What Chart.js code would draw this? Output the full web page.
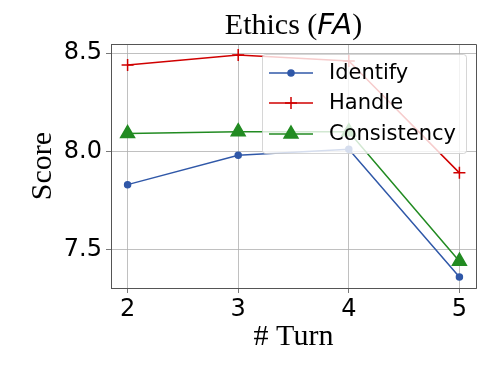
<!DOCTYPE html>
<html>
<head>
<meta charset="utf-8">
<script src="https://cdn.jsdelivr.net/npm/chart.js@4"></script>
<style>
  html, body { margin: 0; padding: 0; background: #fff; }
  #wrap { width: 488px; height: 366px; }
</style>
</head>
<body>
<div id="wrap"><canvas id="ethicsChart" width="488" height="366"></canvas></div>
<script>
// data
const turns = [2, 3, 4, 5];
const identify = [7.83, 7.98, 8.01, 7.36];
const handle = [8.44, 8.49, 8.46, 7.89];
const consistency = [8.09, 8.10, 8.10, 7.44];
const seriesNames = ['Identify', 'Handle', 'Consistency'];
const yTicks = [7.5, 8.0, 8.5];

const toPoints = vals => turns.map((t, i) => ({ x: t, y: vals[i] }));

// title + top/right spines + legend inside plot
const extras = {
    id: 'extras',
    afterDatasetsDraw(chart) {
        const ctx = chart.ctx;
        const a = chart.chartArea;
        ctx.save();

        // legend box
        const bx = 262, by = 54, bw = 204, bh = 99;
        ctx.fillStyle = 'rgba(255,255,255,0.8)';
        ctx.strokeStyle = 'rgba(204,204,204,0.8)';
        ctx.lineWidth = 1;
        ctx.beginPath();
        ctx.roundRect(bx + 0.5, by + 0.5, bw, bh, 3);
        ctx.fill();
        ctx.stroke();

        const rows = [73, 103, 134];
        chart.data.datasets.forEach((ds, i) => {
            const y = rows[i];
            ctx.strokeStyle = ds.borderColor;
            ctx.fillStyle = ds.borderColor;
            ctx.lineWidth = 1.5;
            ctx.beginPath();
            ctx.moveTo(269, y);
            ctx.lineTo(313, y);
            ctx.stroke();
            Chart.helpers.drawPoint(ctx, {
                pointStyle: ds.pointStyle,
                radius: ds.pointRadius,
                borderWidth: 1.5
            }, 291, y);
            ctx.fillStyle = '#000';
            ctx.font = '21px "DejaVu Sans"';
            ctx.textBaseline = 'middle';
            ctx.textAlign = 'left';
            ctx.fillText(ds.label, 329, y + 1);
        });

        // top and right spines
        ctx.strokeStyle = '#555';
        ctx.lineWidth = 1;
        ctx.beginPath();
        ctx.moveTo(a.left, a.top + 0.5);
        ctx.lineTo(a.right + 0.5, a.top + 0.5);
        ctx.lineTo(a.right + 0.5, a.bottom);
        ctx.stroke();

        // title: Ethics (FA)
        const p1 = 'Ethics (', p2 = 'FA', p3 = ')';
        const serif = '30px "Liberation Serif"';
        const mathIt = 'italic 29px "DejaVu Sans"';
        ctx.font = serif; const w1 = ctx.measureText(p1).width; const w3 = ctx.measureText(p3).width;
        ctx.font = mathIt; const w2 = ctx.measureText(p2).width;
        let x = (a.left + a.right) / 2 - (w1 + w2 + w3) / 2;
        const base = 34;
        ctx.fillStyle = '#000';
        ctx.textBaseline = 'alphabetic';
        ctx.textAlign = 'left';
        ctx.font = serif; ctx.fillText(p1, x, base); x += w1;
        ctx.font = mathIt; ctx.fillText(p2, x, base); x += w2;
        ctx.font = serif; ctx.fillText(p3, x, base);
        ctx.restore();
    }
};

const colors = ['#3058a8', '#d00000', '#228b22'];
const styles = ['circle', 'cross', 'triangle'];
const radii = [3, 6, 8];
const values = [identify, handle, consistency];

const ctx = document.getElementById('ethicsChart').getContext('2d');
new Chart(ctx, {
    type: 'line',
    data: {
        datasets: values.map((v, i) => ({
            label: seriesNames[i],
            data: toPoints(v),
            borderColor: colors[i],
            backgroundColor: colors[i],
            pointBackgroundColor: colors[i],
            pointBorderColor: colors[i],
            pointStyle: styles[i],
            pointRadius: radii[i],
            pointBorderWidth: 1.5,
            borderWidth: 1.5,
            tension: 0
        }))
    },
    options: {
        responsive: false,
        animation: false,
        layout: { padding: { top: 44, right: 12, left: 0, bottom: 0 } },
        plugins: { legend: { display: false }, tooltip: { enabled: false } },
        scales: {
            x: {
                type: 'linear',
                min: 1.85,
                max: 5.15,
                afterBuildTicks: s => { s.ticks = turns.map(v => ({ value: v })); },
                afterFit: s => { s.height = 78; },
                ticks: {
                    color: '#000',
                    font: { family: 'DejaVu Sans', size: 24 },
                    padding: 2,
                    maxRotation: 0,
                    callback: v => String(v)
                },
                grid: { color: '#b0b0b0', lineWidth: 0.8, tickLength: 5, tickColor: '#555' },
                border: { color: '#555', width: 1 },
                title: {
                    display: true,
                    text: '# Turn',
                    color: '#000',
                    font: { family: 'Liberation Serif', size: 30 },
                    padding: { top: 0, bottom: 11 }
                }
            },
            y: {
                min: 7.3035,
                max: 8.5465,
                afterBuildTicks: s => { s.ticks = yTicks.map(v => ({ value: v })); },
                afterFit: s => { s.width = 111; },
                ticks: {
                    color: '#000',
                    font: { family: 'DejaVu Sans', size: 24 },
                    padding: 4,
                    callback: v => v.toFixed(1)
                },
                grid: { color: '#b0b0b0', lineWidth: 0.8, tickLength: 5, tickColor: '#555' },
                border: { color: '#555', width: 1 },
                title: {
                    display: true,
                    text: 'Score',
                    color: '#000',
                    font: { family: 'Liberation Serif', size: 30 },
                    padding: { top: 25, bottom: 0 }
                }
            }
        }
    },
    plugins: [extras]
});
</script>
</body>
</html>
